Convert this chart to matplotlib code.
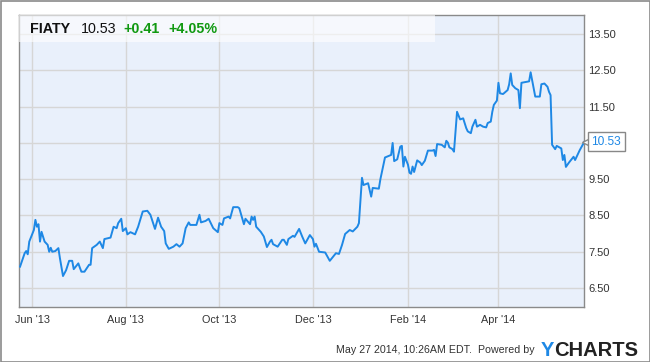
import matplotlib
matplotlib.use("Agg")
import matplotlib.pyplot as plt
import matplotlib.dates as mdates
from matplotlib.patches import Rectangle
from matplotlib.transforms import offset_copy
import pandas as pd

plt.rcParams['font.family'] = ['Liberation Sans', 'DejaVu Sans']

ticker = "FIATY"
last_price = "10.53"
change = "+0.41"
change_pct = "+4.05%"
stamp = "May 27 2014, 10:26AM EDT.  Powered by"

dates = [
    "2013-05-24", "2013-05-27", "2013-05-28", "2013-05-29", "2013-05-30", "2013-06-02",
    "2013-06-03", "2013-06-04", "2013-06-05", "2013-06-06", "2013-06-07", "2013-06-09",
    "2013-06-11", "2013-06-12", "2013-06-13", "2013-06-14", "2013-06-16", "2013-06-18",
    "2013-06-19", "2013-06-21", "2013-06-23", "2013-06-25", "2013-06-27", "2013-06-28",
    "2013-07-01", "2013-07-02", "2013-07-03", "2013-07-05", "2013-07-08", "2013-07-09",
    "2013-07-10", "2013-07-13", "2013-07-15", "2013-07-17", "2013-07-18", "2013-07-22",
    "2013-07-24", "2013-07-26", "2013-07-27", "2013-07-29", "2013-07-30", "2013-08-01",
    "2013-08-02", "2013-08-04", "2013-08-07", "2013-08-09", "2013-08-12", "2013-08-15",
    "2013-08-17", "2013-08-20", "2013-08-22", "2013-08-24", "2013-08-26", "2013-08-27",
    "2013-08-29", "2013-09-01", "2013-09-03", "2013-09-05", "2013-09-07", "2013-09-09",
    "2013-09-11", "2013-09-12", "2013-09-16", "2013-09-18", "2013-09-19", "2013-09-22",
    "2013-09-24", "2013-09-26", "2013-09-27", "2013-09-30", "2013-10-01", "2013-10-03",
    "2013-10-04", "2013-10-07", "2013-10-08", "2013-10-10", "2013-10-13", "2013-10-14",
    "2013-10-16", "2013-10-17", "2013-10-18", "2013-10-21", "2013-10-22", "2013-10-23",
    "2013-10-24", "2013-10-25", "2013-10-28", "2013-10-30", "2013-11-01", "2013-11-03",
    "2013-11-04", "2013-11-05", "2013-11-08", "2013-11-11", "2013-11-12", "2013-11-14",
    "2013-11-15", "2013-11-18", "2013-11-19", "2013-11-22", "2013-11-24", "2013-11-26",
    "2013-11-29", "2013-12-01", "2013-12-02", "2013-12-03", "2013-12-05", "2013-12-09",
    "2013-12-12", "2013-12-16", "2013-12-18", "2013-12-20", "2013-12-22", "2013-12-25",
    "2013-12-27", "2013-12-30", "2013-12-31", "2014-01-02", "2014-01-03", "2014-01-06",
    "2014-01-08", "2014-01-09", "2014-01-13", "2014-01-14", "2014-01-17", "2014-01-21",
    "2014-01-22", "2014-01-23", "2014-01-25", "2014-01-27", "2014-01-28", "2014-01-29",
    "2014-01-30", "2014-02-01", "2014-02-02", "2014-02-03", "2014-02-04", "2014-02-05",
    "2014-02-07", "2014-02-09", "2014-02-10", "2014-02-12", "2014-02-14", "2014-02-17",
    "2014-02-18", "2014-02-19", "2014-02-20", "2014-02-23", "2014-02-25", "2014-02-26",
    "2014-02-27", "2014-02-28", "2014-03-02", "2014-03-03", "2014-03-05", "2014-03-07",
    "2014-03-09", "2014-03-11", "2014-03-12", "2014-03-14", "2014-03-15", "2014-03-17",
    "2014-03-18", "2014-03-20", "2014-03-22", "2014-03-24", "2014-03-25", "2014-03-27",
    "2014-03-28", "2014-03-29", "2014-03-31", "2014-04-01", "2014-04-02", "2014-04-04",
    "2014-04-07", "2014-04-08", "2014-04-09", "2014-04-10", "2014-04-12", "2014-04-14",
    "2014-04-15", "2014-04-16", "2014-04-20", "2014-04-21", "2014-04-22", "2014-04-25",
    "2014-04-28", "2014-04-29", "2014-05-01", "2014-05-03", "2014-05-04", "2014-05-05",
    "2014-05-06", "2014-05-08", "2014-05-09", "2014-05-12", "2014-05-13", "2014-05-14",
    "2014-05-15", "2014-05-17", "2014-05-20", "2014-05-21", "2014-05-24", "2014-05-27",
]

prices = [
    7.09, 7.46, 7.52, 7.43, 7.78, 8.10,
    8.38, 8.19, 8.26, 7.78, 8.05, 7.78,
    7.69, 7.50, 7.61, 7.50, 7.52, 7.60,
    7.32, 6.83, 6.99, 7.25, 7.25, 7.02,
    7.18, 7.06, 6.95, 6.95, 7.14, 7.14,
    7.60, 7.69, 7.78, 7.60, 7.85, 7.89,
    8.19, 8.15, 8.29, 8.41, 8.07, 8.15,
    7.98, 8.04, 7.98, 8.19, 8.61, 8.63,
    8.52, 8.13, 8.44, 8.19, 8.07, 7.73,
    7.58, 7.64, 7.71, 7.64, 7.73, 8.15,
    8.31, 8.24, 8.24, 8.52, 8.31, 8.35,
    8.41, 8.24, 8.15, 8.04, 8.29, 8.24,
    8.42, 8.47, 8.42, 8.73, 8.73, 8.70,
    8.41, 8.26, 8.41, 8.26, 8.47, 8.38,
    8.47, 8.19, 8.05, 7.92, 7.63, 7.78,
    7.83, 7.71, 7.64, 7.83, 7.83, 7.69,
    7.85, 7.94, 7.91, 8.13, 7.92, 7.73,
    7.96, 7.85, 7.64, 7.72, 7.50, 7.48,
    7.25, 7.46, 7.44, 7.69, 7.99, 8.10,
    8.06, 8.19, 8.29, 9.54, 9.34, 9.39,
    9.02, 9.26, 9.24, 9.50, 10.10, 10.17,
    10.50, 10.00, 10.05, 10.40, 10.42, 9.85,
    10.12, 9.90, 9.68, 9.65, 9.85, 9.70,
    10.02, 9.96, 9.89, 10.01, 10.29, 10.29,
    10.31, 10.14, 10.47, 10.45, 10.38, 10.56,
    10.51, 10.38, 10.33, 10.26, 11.36, 11.15,
    11.18, 10.91, 10.82, 10.77, 10.95, 11.14,
    10.95, 11.00, 10.95, 10.93, 11.05, 11.09,
    11.36, 11.55, 11.67, 12.16, 11.87, 11.85,
    11.96, 12.12, 12.42, 12.10, 12.01, 11.96,
    11.46, 12.16, 12.19, 12.20, 12.45, 11.78,
    11.78, 12.12, 12.14, 12.05, 11.91, 11.82,
    10.45, 10.33, 10.42, 10.35, 10.03, 10.17,
    9.84, 9.96, 10.12, 10.03, 10.30, 10.53,
]

y_ticks = [6.5, 7.5, 8.5, 9.5, 10.5, 11.5, 12.5, 13.5]

x = pd.to_datetime(dates)
blue = '#1e88e5'
green = '#119911'

fig = plt.figure(figsize=(6.5, 3.62), dpi=100)
ax = fig.add_axes([19.3 / 650, 1 - 306.5 / 362, (584.3 - 19.3) / 650, (306.5 - 15) / 362])
ax.set_facecolor('#e9f0fb')

ax.plot(x, prices, color=blue, lw=1.4, zorder=3)

ax.set_xlim(x[0] - pd.Timedelta(hours=12), x[-1])
ax.set_ylim(5.99, 14.03)

ax.xaxis.set_major_locator(mdates.MonthLocator(bymonth=[2, 4, 6, 8, 10, 12]))
ax.xaxis.set_major_formatter(mdates.DateFormatter("%b '%y"))
ax.set_yticks(y_ticks)
# the last-value tag sits where the 10.50 label would be
ax.set_yticklabels(["" if abs(v - prices[-1]) < 0.3 else "%.2f" % v for v in y_ticks])
ax.yaxis.tick_right()
ax.tick_params(axis='y', length=0, pad=3, labelsize=8, labelcolor='#333333')
ax.tick_params(axis='x', length=0, pad=6, labelsize=7.8, labelcolor='#333333')
ax.grid(True, color='#d6d6d6', lw=1)
ax.set_axisbelow(True)
for sp in ax.spines.values():
    sp.set_color('#8a8a8a')
    sp.set_linewidth(1)

# header box
ax.add_patch(Rectangle((0, 1 - 27 / 291.5), (435 - 19.3) / 565, 27 / 291.5,
                       transform=ax.transAxes, facecolor='white', alpha=0.6,
                       edgecolor='none', zorder=4))
hy = 1 - 29 / 362
fig.text(30 / 650, hy, ticker, fontsize=10.3, fontweight='bold', color='#111111', va='center')
fig.text(80.5 / 650, hy, last_price, fontsize=10.3, color='#111111', va='center')
fig.text(123.5 / 650, hy, change, fontsize=10.3, fontweight='bold', color=green, va='center')
fig.text(168.5 / 650, hy, change_pct, fontsize=10.3, fontweight='bold', color=green, va='center')

# last value tag
trans = offset_copy(ax.transData, fig=fig, x=3, y=0, units='dots')
ax.plot([x[-1]], [prices[-1]], marker='<', ms=7.5, mfc='white', mec='#888888', mew=1,
        transform=trans, clip_on=False, zorder=5)
ax.annotate("%.2f" % prices[-1], xy=(x[-1], prices[-1]), xytext=(5.0, 0),
            textcoords='offset points', ha='left', va='center', fontsize=8.6, color=blue,
            bbox=dict(boxstyle='square,pad=0.3', fc='white', ec='#888888', lw=1),
            annotation_clip=False, zorder=6)

# footer
fy = 1 - 350 / 362
fig.text(535 / 650, fy, stamp, fontsize=7.7, color='#333333', ha='right', va='center')
fig.text(554 / 650, fy, "Y", fontsize=14.5, fontweight='bold', color=blue, ha='right', va='center')
fig.text(638.5 / 650, fy, "CHARTS", fontsize=14.5, fontweight='bold', color='#222222',
         ha='right', va='center')

# outer frame
fig.patches.append(Rectangle((0.5 / 650, 0.5 / 362), 649 / 650, 361 / 362,
                             transform=fig.transFigure, fill=False,
                             edgecolor='#8a8a8a', lw=1.2))

fig.savefig("out.png", dpi=100)
